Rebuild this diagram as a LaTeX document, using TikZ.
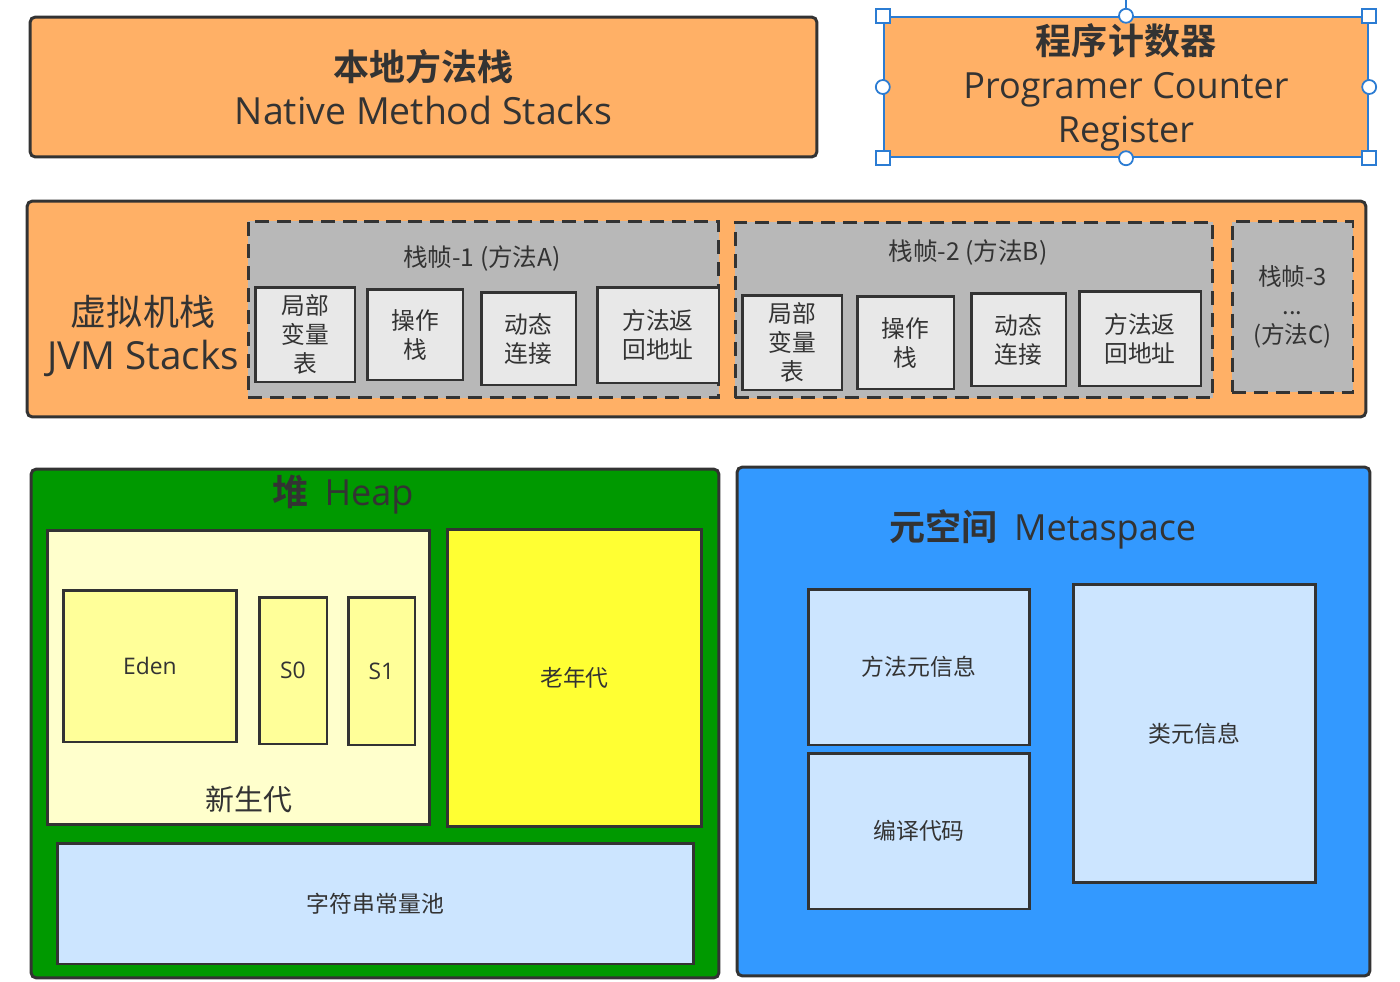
\documentclass[tikz,border=0pt]{standalone}
\usepackage{fontspec}
\setmainfont{Noto Sans CJK SC}[BoldFont={Noto Sans CJK SC Bold}]
\newfontfamily\latin{Open Sans}
\definecolor{ink}{HTML}{333333}
\definecolor{edge}{HTML}{333333}
\definecolor{stackorange}{HTML}{FFB066}
\definecolor{framegray}{HTML}{B8B8B8}
\definecolor{slotgray}{HTML}{E8E8E8}
\definecolor{heapgreen}{HTML}{009900}
\definecolor{youngyellow}{HTML}{FFFFCC}
\definecolor{edenyellow}{HTML}{FFFF99}
\definecolor{oldyellow}{HTML}{FFFF33}
\definecolor{metablue}{HTML}{3399FF}
\definecolor{paleblue}{HTML}{CCE5FF}
\definecolor{selblue}{HTML}{2B7CD3}
\begin{document}
\begin{tikzpicture}[x=0.02cm,y=-0.02cm,
  every node/.style={text=ink,align=center,inner sep=0pt},
  outer/.style={draw=edge,line width=1.7pt,rounded corners=3pt},
  plain/.style={draw=edge,line width=1.7pt},
  frame/.style={draw=edge,line width=1.7pt,dash pattern=on 8pt off 4.5pt,fill=framegray},
  slot/.style={plain,fill=slotgray,font=\fontsize{13.5}{16.5}\selectfont},
  big/.style={font=\fontsize{20.5}{25}\selectfont},
  small/.style={font=\fontsize{13}{16}\selectfont},
  sqhandle/.style={draw=selblue,fill=white,line width=1pt,minimum size=0.28cm},
  rdhandle/.style={circle,draw=selblue,fill=white,line width=1pt,minimum size=0.28cm}]
\useasboundingbox (0,0) rectangle (1400,981);

% top row
\node[outer,fill=stackorange,big,minimum width=15.74cm,minimum height=2.8cm] (native) at (423.5,87) {\textbf{本地方法栈}\\{\latin\fontsize{21.3}{25}\selectfont Native Method Stacks}};
\coordinate (pctop) at (1126,0);
\node[draw=selblue,line width=1.4pt,fill=stackorange,big,minimum width=9.68cm,minimum height=2.8cm] (pc) at (1126,87) {\textbf{程序计数器}\\{\latin Programer Counter}\\{\latin Register}};
\draw[selblue,line width=1.4pt] (pctop) -- (pc.north);
\foreach \a/\n in {north west/nw,north east/ne,south west/sw,south east/se}
  \node[sqhandle] (h\n) at (pc.\a) {};
\foreach \a/\n in {north/n,south/s,west/w,east/e}
  \node[rdhandle] (h\n) at (pc.\a) {};

% jvm stacks
\node[outer,fill=stackorange,minimum width=26.78cm,minimum height=4.32cm] (jvm) at (696.5,309) {};
\node[big] (jvmlabel) at (143,336) {虚拟机栈\\{\latin\fontsize{22}{25}\selectfont JVM Stacks}};

\node[frame,minimum width=9.42cm,minimum height=3.54cm] (f1) at (483.5,309.5) {};
\node[font=\fontsize{14}{16}\selectfont] (f1label) at (482,258) {栈帧-1 (方法A)};
\node[slot,minimum width=2cm   ,minimum height=1.9cm ] (f1a) at (305,334.5)  {局部\\变量\\表};
\node[slot,minimum width=1.92cm,minimum height=1.82cm] (f1b) at (415,334.5)  {操作\\栈};
\node[slot,minimum width=1.9cm ,minimum height=1.86cm] (f1c) at (528.5,338.5) {动态\\连接};
\node[slot,minimum width=2.44cm,minimum height=1.92cm] (f1d) at (658,335)    {方法返\\回地址};

\node[frame,minimum width=9.56cm,minimum height=3.52cm] (f2) at (974,310) {};
\node[font=\fontsize{14}{16}\selectfont] (f2label) at (968,253) {栈帧-2 (方法B)};
\node[slot,minimum width=2cm   ,minimum height=1.9cm ] (f2a) at (792,342.5)   {局部\\变量\\表};
\node[slot,minimum width=1.94cm,minimum height=1.86cm] (f2b) at (905.5,342.5) {操作\\栈};
\node[slot,minimum width=1.9cm ,minimum height=1.86cm] (f2c) at (1018.5,339.5) {动态\\连接};
\node[slot,minimum width=2.44cm,minimum height=1.9cm ] (f2d) at (1140,338.5)  {方法返\\回地址};

\node[frame,font=\fontsize{13.5}{16.5}\selectfont,minimum width=2.42cm,minimum height=3.42cm] (f3) at (1292.5,307) {栈帧-3\\...\\(方法C)};

% heap
\node[outer,fill=heapgreen,minimum width=13.76cm,minimum height=10.18cm] (heap) at (375,723.5) {};
\node[big] (heaplabel) at (343,495) {\textbf{堆}\ \ {\latin Heap}};
\node[plain,fill=youngyellow,minimum width=7.66cm,minimum height=5.9cm] (young) at (238.5,677.5) {};
\node[font=\fontsize{16.5}{20}\selectfont] (younglabel) at (249,799) {新生代};
\node[plain,fill=edenyellow,small,minimum width=3.48cm,minimum height=3.04cm] (eden) at (150,666)   {\latin Eden};
\node[plain,fill=edenyellow,small,minimum width=1.36cm,minimum height=2.94cm] (s0)   at (293,670.5) {\latin S0};
\node[plain,fill=edenyellow,small,minimum width=1.34cm,minimum height=2.96cm] (s1)   at (381.5,671) {\latin S1};
\node[plain,fill=oldyellow,small,minimum width=5.1cm,minimum height=5.96cm] (old) at (574.5,678) {老年代};
\node[plain,fill=paleblue,small,minimum width=12.74cm,minimum height=2.42cm] (pool) at (375.5,903.5) {字符串常量池};

% metaspace
\node[outer,fill=metablue,minimum width=12.66cm,minimum height=10.18cm] (meta) at (1053.5,721.5) {};
\node[big] (metalabel) at (1043,529) {\textbf{元空间}\ \ {\latin Metaspace}};
\node[plain,fill=paleblue,small,minimum width=4.44cm,minimum height=3.12cm] (methodmeta) at (919,667)    {方法元信息};
\node[plain,fill=paleblue,small,minimum width=4.44cm,minimum height=3.12cm] (compiled)   at (919,831)    {编译代码};
\node[plain,fill=paleblue,small,minimum width=4.86cm,minimum height=5.98cm] (classmeta)  at (1194.5,733.5) {类元信息};
\end{tikzpicture}
\end{document}
